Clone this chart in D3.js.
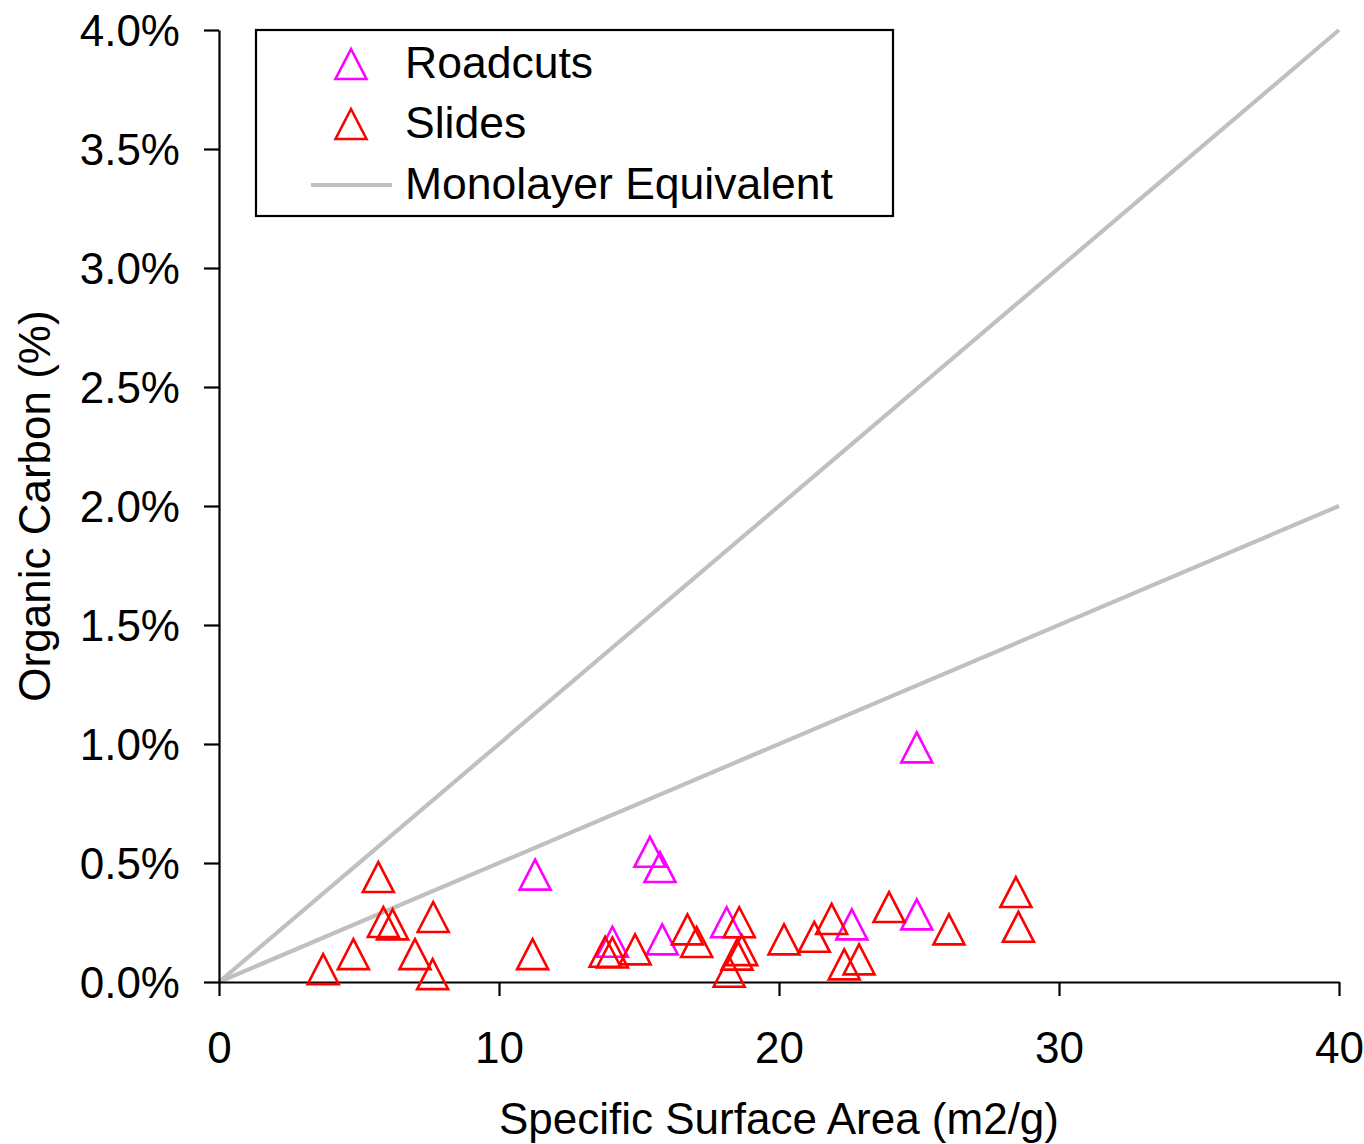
<!DOCTYPE html>
<html>
<head>
<meta charset="utf-8">
<script src="https://cdn.jsdelivr.net/npm/d3@7"></script>
<style>
  html, body { margin: 0; padding: 0; background: #fff; }
  svg text { font-family: "Liberation Sans", Arial, sans-serif; fill: #000; }
</style>
</head>
<body>
<svg id="chart" width="1364" height="1144"></svg>
<script>
// Specific surface area (m2/g) vs organic carbon (%)
const roadcutsX = [11.29, 15.39, 15.75, 14.05, 15.83, 18.13, 22.6, 24.92, 24.92];
const roadcutsY = [0.451, 0.547, 0.483, 0.169, 0.179, 0.251, 0.242, 0.284, 0.986];

const slidesX = [5.69, 5.87, 6.2, 7.65, 4.8, 3.72, 7.0, 7.63, 11.2, 13.79, 14.05, 14.86,
                 16.73, 17.06, 18.58, 18.67, 18.5, 18.22, 20.18, 21.26, 21.88, 22.33,
                 22.86, 23.93, 26.07, 28.46, 28.55];
const slidesY = [0.441, 0.252, 0.242, 0.273, 0.117, 0.054, 0.117, 0.033, 0.117, 0.127, 0.124, 0.137,
                 0.221, 0.168, 0.251, 0.134, 0.115, 0.043, 0.179, 0.19, 0.265, 0.074,
                 0.095, 0.315, 0.221, 0.378, 0.232];

// Monolayer-equivalent reference lines (x, organic carbon %)
const monolayerUpper = [[0, 0], [40, 4.0]];
const monolayerLower = [[0, 0], [40, 2.0]];

const xTicks = [0, 10, 20, 30, 40];
const yTicks = [0, 0.5, 1.0, 1.5, 2.0, 2.5, 3.0, 3.5, 4.0];

const legendLabels = ["Roadcuts", "Slides", "Monolayer Equivalent"];

const svg = d3.select("#chart");
const FONT = 44;

const x = d3.scaleLinear().domain([0, 40]).range([219, 1339]);
const y = d3.scaleLinear().domain([0, 4.0]).range([982, 30]);

// Reference lines
const line = d3.line().x(d => x(d[0])).y(d => y(d[1]));
svg.selectAll("path.mono")
  .data([monolayerUpper, monolayerLower])
  .join("path")
  .attr("class", "mono")
  .attr("d", line)
  .attr("fill", "none")
  .attr("stroke", "#c0c0c0")
  .attr("stroke-width", 4.2);

// Axes
const yAxis = d3.axisLeft(y).tickValues(yTicks)
  .tickFormat(d => d3.format(".1f")(d) + "%")
  .tickSize(15).tickSizeOuter(0).tickPadding(24);
const gy = svg.append("g").attr("transform", "translate(219,0)").call(yAxis);

const xAxis = d3.axisBottom(x).tickValues(xTicks)
  .tickFormat(d3.format("d"))
  .tickSize(14).tickSizeOuter(0).tickPadding(36);
const gx = svg.append("g").attr("transform", "translate(0,982)").call(xAxis);

[gx, gy].forEach(g => {
  g.select(".domain").attr("stroke", "#000").attr("stroke-width", 2.2);
  g.selectAll(".tick line").attr("stroke", "#000").attr("stroke-width", 2.2);
  g.selectAll(".tick text").attr("font-size", FONT)
    .attr("font-family", "'Liberation Sans', Arial, sans-serif").attr("fill", "#000");
});
gy.selectAll(".tick text").attr("dy", "0.36em");

// Triangle marker path centred on (0,0)
const tri = "M0,-15 L15.5,15 L-15.5,15 Z";

function drawSeries(xs, ys, color) {
  svg.append("g").selectAll("path")
    .data(xs.map((v, i) => [v, ys[i]]))
    .join("path")
    .attr("d", tri)
    .attr("transform", d => `translate(${x(d[0])},${y(d[1])})`)
    .attr("fill", "none")
    .attr("stroke", color)
    .attr("stroke-width", 2.6)
    .attr("stroke-linejoin", "miter");
}
drawSeries(roadcutsX, roadcutsY, "#ff00ff");
drawSeries(slidesX, slidesY, "#ff0000");

// Axis titles
svg.append("text")
  .attr("x", x(20)).attr("y", 1134)
  .attr("text-anchor", "middle").attr("font-size", FONT)
  .text("Specific Surface Area (m2/g)");

svg.append("text")
  .attr("transform", `translate(50,${(30 + 982) / 2}) rotate(-90)`)
  .attr("text-anchor", "middle").attr("font-size", FONT)
  .text("Organic Carbon (%)");

// Legend
const lg = svg.append("g");
lg.append("rect")
  .attr("x", 256).attr("y", 30).attr("width", 637).attr("height", 186)
  .attr("fill", "#fff").attr("stroke", "#000").attr("stroke-width", 2.2);

const rowY = [64, 124, 185];
lg.append("path").attr("d", tri)
  .attr("transform", `translate(351,${rowY[0]})`)
  .attr("fill", "none").attr("stroke", "#ff00ff").attr("stroke-width", 2.6);
lg.append("path").attr("d", tri)
  .attr("transform", `translate(351,${rowY[1]})`)
  .attr("fill", "none").attr("stroke", "#ff0000").attr("stroke-width", 2.6);
lg.append("line")
  .attr("x1", 311).attr("x2", 392).attr("y1", rowY[2]).attr("y2", rowY[2])
  .attr("stroke", "#c0c0c0").attr("stroke-width", 4.2);

lg.selectAll("text.lbl")
  .data(legendLabels)
  .join("text")
  .attr("class", "lbl")
  .attr("x", 405)
  .attr("y", (d, i) => rowY[i] - 2)
  .attr("dy", "0.36em")
  .attr("font-size", 44.5)
  .text(d => d);
</script>
</body>
</html>
